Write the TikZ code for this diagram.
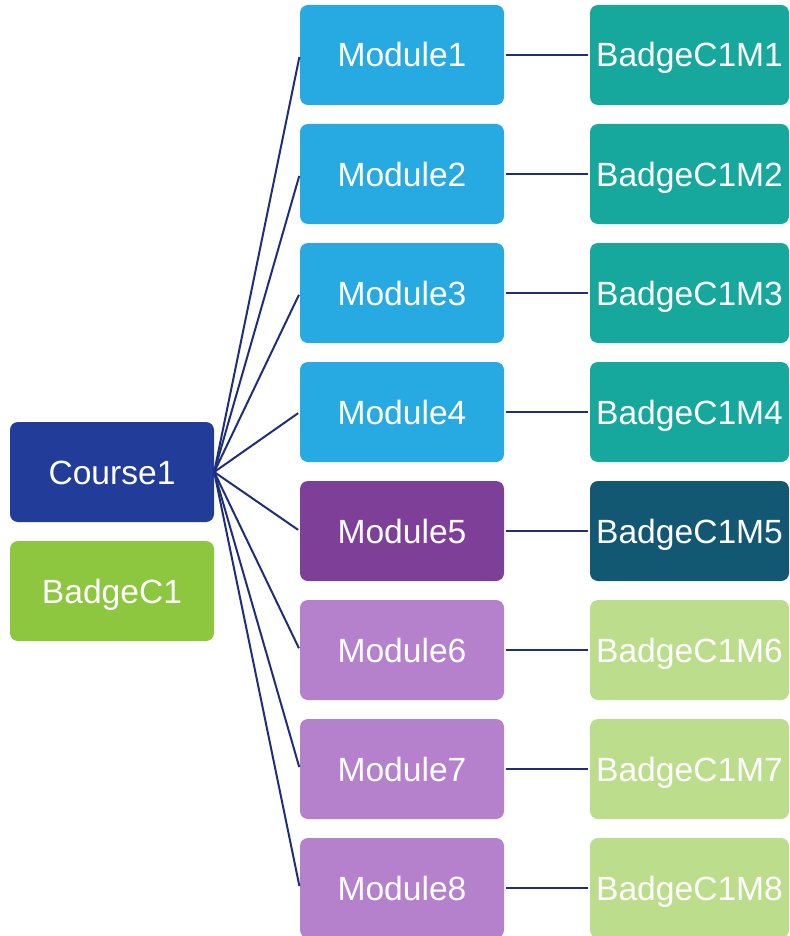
\documentclass[tikz,border=0pt]{standalone}
\usepackage{fontspec}
\setmainfont{Liberation Sans}
\definecolor{linkcol}{HTML}{1F2E7A}
\definecolor{coursecol}{HTML}{213D99}
\definecolor{cbadgecol}{HTML}{8DC63F}
\definecolor{modblue}{HTML}{27A9E1}
\definecolor{modpurple}{HTML}{7E3F98}
\definecolor{modlilac}{HTML}{B580CC}
\definecolor{badgeteal}{HTML}{16A89D}
\definecolor{badgedark}{HTML}{135873}
\definecolor{badgelime}{HTML}{BCDE8C}
\tikzset{
  box/.style={rectangle, rounded corners=8pt, minimum height=100pt, inner sep=0pt,
    text height=24pt, text depth=0pt,
    text=white, font=\fontsize{33.6}{40}\selectfont},
  leftbox/.style={box, minimum width=204pt},
  modbox/.style={box, minimum width=204pt},
  badgebox/.style={box, minimum width=199pt},
  link/.style={draw=linkcol, line width=2pt}
}
\begin{document}
\begin{tikzpicture}[x=1pt,y=-1pt]
\useasboundingbox (0,0) rectangle (789,936);
% course and its badge
\node[leftbox, fill=coursecol] (c1) at (112,472) {Course1};
\node[leftbox, fill=cbadgecol] (bc1) at (112,591) {BadgeC1};
% modules and module badges
\foreach \i/\mc/\bc in {1/modblue/badgeteal, 2/modblue/badgeteal, 3/modblue/badgeteal,
    4/modblue/badgeteal, 5/modpurple/badgedark, 6/modlilac/badgelime,
    7/modlilac/badgelime, 8/modlilac/badgelime} {
  \pgfmathsetmacro{\yy}{55+119*(\i-1)}
  \node[modbox, fill=\mc] (m\i) at (402,\yy) {Module\i};
  \node[badgebox, fill=\bc] (b\i) at (689.5,\yy) {BadgeC1M\i};
  \draw[link, shorten >=2pt] (c1.east) -- (m\i.west);
  \draw[link, shorten <=2pt, shorten >=2pt] (m\i.east) -- (b\i.west);
}
\end{tikzpicture}
\end{document}
